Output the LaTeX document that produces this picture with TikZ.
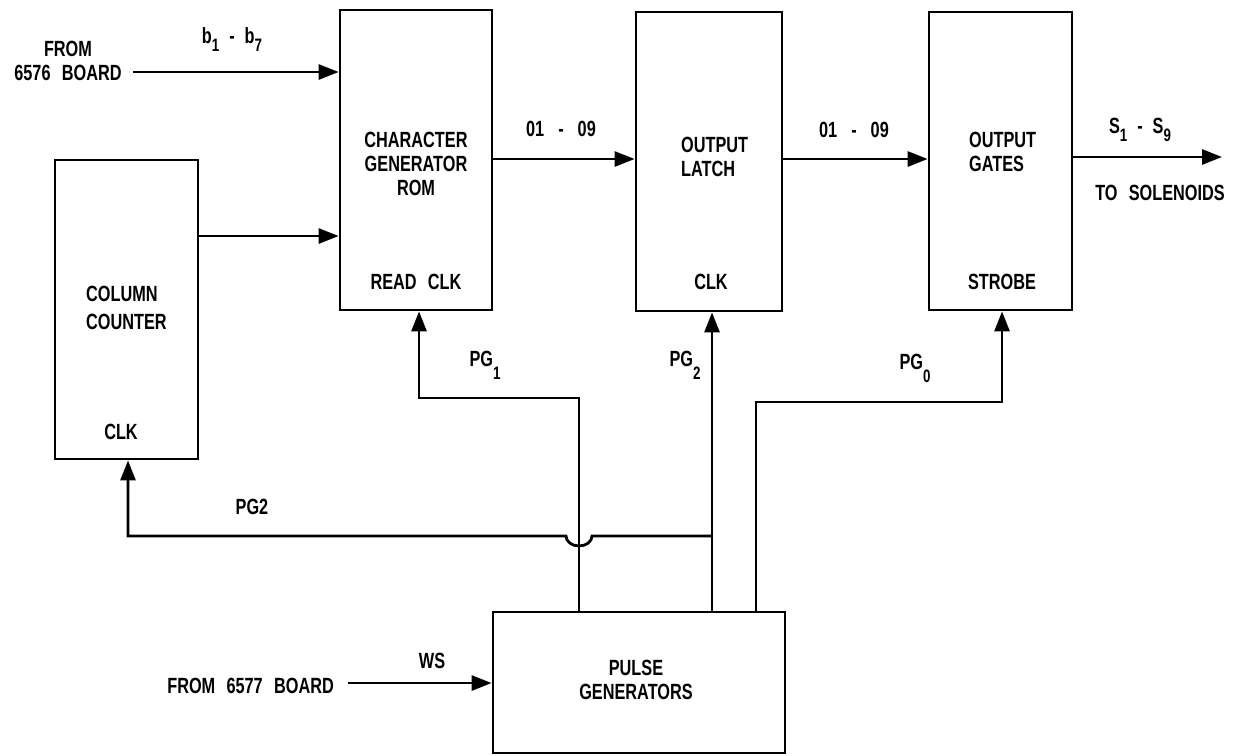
\documentclass[tikz,border=0pt]{standalone}
\usepackage{fontspec}
\setmainfont{Liberation Sans}[FakeStretch=0.74,WordSpace=2.5]
\usetikzlibrary{arrows.meta}
\newcommand\lowsub[2]{\raisebox{-#1}{\fontsize{18}{18}\selectfont\bfseries #2}}
\begin{document}
\begin{tikzpicture}[x=1pt,y=-1pt,
  blk/.style={draw,line width=2.8pt,inner sep=0pt},
  lbl/.style={inner sep=0pt,font=\fontsize{22}{24}\selectfont\bfseries},
  wire/.style={line width=2.8pt,line join=miter},
  arr/.style={wire,-{Triangle[length=20pt,width=15pt]}}]
\useasboundingbox (0,0) rectangle (1239,755);
% blocks
\node[blk,minimum width=152pt,minimum height=300pt] (rom) at (416,160) {};
\node[blk,minimum width=146pt,minimum height=299pt] (latch) at (709,161.5) {};
\node[blk,minimum width=143pt,minimum height=298pt] (gates) at (1000.5,161) {};
\node[blk,minimum width=143pt,minimum height=299pt] (cc) at (126.5,309.5) {};
\node[blk,minimum width=292pt,minimum height=141pt] (pg) at (639,682.5) {};
% block texts
\node[lbl,align=center] (romt) at (416,164) {CHARACTER\\GENERATOR\\ROM};
\node[lbl,align=left,anchor=west] (latcht) at (681,157) {OUTPUT\\LATCH};
\node[lbl,align=left,anchor=west] (gatest) at (969,152) {OUTPUT\\GATES};
\node[lbl,align=left,anchor=west] (cct) at (86,308) {COLUMN\\[4pt]COUNTER};
\node[lbl] (romclk) at (416,282) {READ CLK};
\node[lbl] (latchclk) at (711,282) {CLK};
\node[lbl] (strobe) at (1002,282) {STROBE};
\node[lbl] (ccclk) at (121,432) {CLK};
\node[lbl,align=center] (pgt) at (636,680) {PULSE\\GENERATORS};
% top input
\node[lbl,align=center] (from1) at (68,61) {FROM\\6576 BOARD};
\coordinate (in1) at (133,72);
\draw[arr] (in1) -- (in1 -| rom.west);
\node[lbl] (b17) at (232,40) {b\lowsub{8pt}{1}\hspace{10pt}-\hspace{10pt}b\lowsub{8pt}{7}};
% column counter to rom
\coordinate (ccout) at (198,236);
\draw[arr] (ccout -| cc.east) -- (ccout -| rom.west);
% data path
\coordinate (d1) at (500,159);
\draw[arr] (d1 -| rom.east) -- (d1 -| latch.west);
\node[lbl] (o1) at (561,129) {01\hspace{14pt}-\hspace{14pt}09};
\draw[arr] (d1 -| latch.east) -- (d1 -| gates.west);
\node[lbl] (o2) at (854,130) {01\hspace{14pt}-\hspace{14pt}09};
\coordinate (sol) at (1222,157);
\draw[arr] (sol -| gates.east) -- (sol);
\node[lbl] (s19) at (1140,130) {S\lowsub{8pt}{1}\hspace{10pt}-\hspace{10pt}S\lowsub{8pt}{9}};
\node[lbl] (tosol) at (1160,193) {TO SOLENOIDS};
% pulse lines
\coordinate (j1) at (579,398);
\coordinate (k1) at (419,398);
\draw[arr] (pg.north -| j1) -- (j1) -- (k1) -- (k1 |- rom.south);
\node[lbl] (pg1) at (485,365) {PG\lowsub{13pt}{1}};
\coordinate (j2) at (712,536);
\draw[arr] (pg.north -| j2) -- (j2 |- latch.south);
\node[lbl] (pg2s) at (685,365) {PG\lowsub{13pt}{2}};
\coordinate (k2) at (128,536);
\draw[arr] (j2) -- (592,536) arc[start angle=0,end angle=180,x radius=13,y radius=10] -- (k2) -- (k2 |- cc.south);
\node[lbl] (pg2) at (252,507) {PG2};
\coordinate (j0) at (756,402);
\coordinate (k0) at (1002,402);
\draw[arr] (pg.north -| j0) -- (j0) -- (k0) -- (k0 |- gates.south);
\node[lbl] (pg0) at (915,368) {PG\lowsub{13pt}{0}};
% WS input
\coordinate (ws) at (348,683);
\draw[arr] (ws) -- (ws -| pg.west);
\node[lbl] (wsl) at (432,661) {WS};
\node[lbl,anchor=east] (from2) at (334,686) {FROM 6577 BOARD};
\end{tikzpicture}
\end{document}
